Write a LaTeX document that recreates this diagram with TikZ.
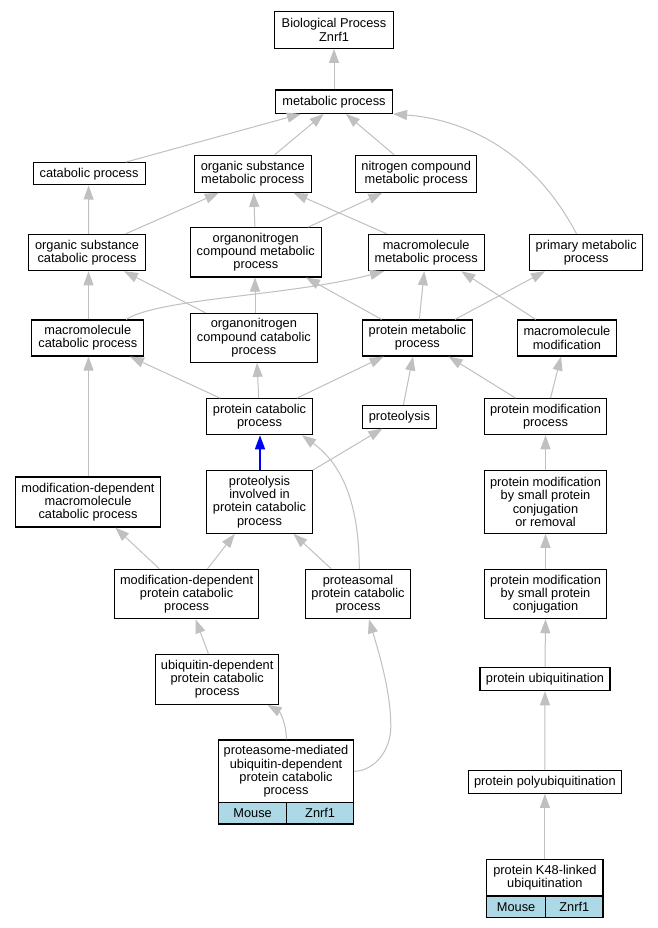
\documentclass[tikz,border=0pt]{standalone}
\usepackage{fontspec}
\setmainfont{Liberation Sans}
\usetikzlibrary{arrows.meta}
\definecolor{edgegray}{RGB}{192,192,192}
\definecolor{cellblue}{RGB}{173,216,230}
\begin{document}
\begin{tikzpicture}[x=1pt,y=-1pt,
  box/.style={draw,line width=1.1pt,inner sep=0pt,align=center,fill=white,
    font=\fontsize{12.8}{13.3}\selectfont},
  sz/.style 2 args={minimum width=#1pt,minimum height=#2pt},
  cell/.style={box,fill=cellblue},
  dep/.style={draw=edgegray,line width=1pt,-{Triangle[length=14pt,width=10pt]}},
  isa/.style={draw=blue,line width=1.5pt,-{Triangle[length=14pt,width=10pt]}}]
\fill[white] (0,0) rectangle (657,928);
\useasboundingbox (0,0) rectangle (657,928);

% nodes
\node[box,sz={118.7}{36.7}] (BP) at (334,30) {Biological Process\\Znrf1};
\node[box,sz={117}{23.3}] (met) at (334,101.7) {metabolic process};
\node[box,sz={112}{22.3}] (cat) at (89.1,173.8) {catabolic process};
\node[box,sz={116.6}{37}] (osm) at (252.8,173.8) {organic substance\\metabolic process};
\node[box,sz={121}{37}] (ncm) at (416.2,173.8) {nitrogen compound\\metabolic process};
\node[box,sz={116.2}{36.4}] (osc) at (87,252.5) {organic substance\\catabolic process};
\node[box,sz={130.8}{49.3}] (onm) at (255.8,252.3) {organonitrogen\\compound metabolic\\process};
\node[box,sz={116.2}{36.4}] (mmm) at (426.2,252.5) {macromolecule\\metabolic process};
\node[box,sz={113.2}{36.4}] (pmp) at (586.2,252.5) {primary metabolic\\process};
\node[box,sz={112}{36}] (mmc) at (87.8,338) {macromolecule\\catabolic process};
\node[box,sz={127}{49}] (onc) at (253.9,337.8) {organonitrogen\\compound catabolic\\process};
\node[box,sz={109.4}{36}] (pmet) at (417.4,338) {protein metabolic\\process};
\node[box,sz={99}{36}] (mmod) at (566.9,338) {macromolecule\\modification};
\node[box,sz={105.7}{36}] (pcat) at (259.5,416.7) {protein catabolic\\process};
\node[box,sz={73.3}{22.7}] (prot) at (399.4,416.7) {proteolysis};
\node[box,sz={122.4}{36}] (pmp2) at (545.5,416.7) {protein modification\\process};
\node[box,sz={144.3}{50}] (mdmc) at (88,502) {modification-dependent\\macromolecule\\catabolic process};
\node[box,sz={105.7}{62.6}] (pipc) at (259.5,502) {proteolysis\\involved in\\protein catabolic\\process};
\node[box,sz={122.4}{62.6}] (pmsr) at (545.5,502) {protein modification\\by small protein\\conjugation\\or removal};
\node[box,sz={144.2}{49.4}] (mdpc) at (186.6,594) {modification-dependent\\protein catabolic\\process};
\node[box,sz={105.7}{49.4}] (ppc) at (358,594) {proteasomal\\protein catabolic\\process};
\node[box,sz={122.4}{49.4}] (pmsc) at (545.5,594) {protein modification\\by small protein\\conjugation};
\node[box,sz={123.2}{50}] (udpc) at (217.2,679.3) {ubiquitin-dependent\\protein catabolic\\process};
\node[box,sz={130}{23}] (pubi) at (545,679.2) {protein ubiquitination};
\node[box,sz={135.1}{62.7}] (prmed) at (286,771.35) {proteasome-mediated\\ubiquitin-dependent\\protein catabolic\\process};
\node[cell,sz={68.4}{21.3}] (prmedA) at (252.6,813.35) {Mouse};
\node[cell,sz={66.7}{21.3}] (prmedB) at (320.15,813.35) {Znrf1};
\node[box,sz={153}{22.7}] (poly) at (544.9,782) {protein polyubiquitination};
\node[box,sz={116.2}{36.7}] (k48) at (544.9,877.65) {protein K48-linked\\ubiquitination};
\node[cell,sz={58.7}{21.3}] (k48A) at (516.15,906.65) {Mouse};
\node[cell,sz={57.5}{21.3}] (k48B) at (574.25,906.65) {Znrf1};

% edges
\draw[dep] (met.north) -- (BP.south);
\draw[dep] ([xshift=36.7pt]cat.north) -- ([xshift=-33pt]met.south);
\draw[dep] ([xshift=21.8pt]osm.north) -- ([xshift=-10.3pt]met.south);
\draw[dep] ([xshift=-22.1pt]ncm.north) -- ([xshift=11.9pt]met.south);
\draw[dep] ([xshift=-9.7pt]pmp.north) .. controls (535,155) and (470,120) .. (met.south east);
\draw[dep] ([xshift=1.5pt]osc.north) -- ([xshift=-0.5pt]cat.south);
\draw[dep] ([xshift=38.8pt]osc.north) -- ([xshift=-33.9pt]osm.south);
\draw[dep] ([xshift=-0.9pt]onm.north) -- ([xshift=0.9pt]osm.south);
\draw[dep] ([xshift=52.4pt]onm.north) -- ([xshift=-33.8pt]ncm.south);
\draw[dep] ([xshift=-39.6pt]mmm.north) -- ([xshift=40.7pt]osm.south);
\draw[dep] ([xshift=0.7pt]mmc.north) -- ([xshift=1.5pt]osc.south);
\draw[dep] ([xshift=38.2pt]mmc.north) .. controls (160,298) and (290,296) .. ([xshift=-42.2pt]mmm.south);
\draw[dep] ([xshift=-48.4pt]onc.north) -- ([xshift=37pt]osc.south);
\draw[dep] ([xshift=1.1pt]onc.north) -- ([xshift=-0.8pt]onm.south);
\draw[dep] ([xshift=-35.8pt]pmet.north) -- ([xshift=50.2pt]onm.south);
\draw[dep] ([xshift=1.9pt]pmet.north) -- ([xshift=-1.9pt]mmm.south);
\draw[dep] ([xshift=37.6pt]pmet.north) -- ([xshift=-41.2pt]pmp.south);
\draw[dep] ([xshift=-31.1pt]mmod.north) -- ([xshift=35pt]mmm.south);
\draw[dep] ([xshift=-39.4pt]pcat.north) -- ([xshift=42.2pt]mmc.south);
\draw[dep] ([xshift=-0.8pt]pcat.north) -- ([xshift=3.1pt]onc.south);
\draw[dep] ([xshift=37.4pt]pcat.north) -- ([xshift=-33.8pt]pmet.south);
\draw[dep] ([xshift=4pt]prot.north) -- ([xshift=-4.4pt]pmet.south);
\draw[dep] ([xshift=-29.8pt]pmp2.north) -- ([xshift=31.2pt]pmet.south);
\draw[dep] ([xshift=5pt]pmp2.north) -- ([xshift=-5.9pt]mmod.south);
\draw[dep] ([xshift=0.5pt]mdmc.north) -- ([xshift=0.7pt]mmc.south);
\draw[isa] ([xshift=0.5pt]pipc.north) -- ([xshift=0.5pt]pcat.south);
\draw[dep] (pipc.north east) -- ([xshift=-17pt]prot.south);
\draw[dep] ([xshift=1.3pt]ppc.north) .. controls (359,520) and (350,470) .. ([xshift=42.5pt]pcat.south);
\draw[dep] (pmsr.north) -- (pmp2.south);
\draw[dep] ([xshift=-27.3pt]mdpc.north) -- ([xshift=27.3pt]mdmc.south);
\draw[dep] ([xshift=20.9pt]mdpc.north) -- ([xshift=-24.7pt]pipc.south);
\draw[dep] ([xshift=-26.8pt]ppc.north) -- ([xshift=34pt]pipc.south);
\draw[dep] (pmsc.north) -- (pmsr.south);
\draw[dep] ([xshift=-8.8pt]udpc.north) -- ([xshift=8.9pt]mdpc.south);
\draw[dep] (pubi.north) -- (pmsc.south);
\draw[dep] ([xshift=0.4pt]prmed.north) .. controls (286.4,724) and (280,712) .. ([xshift=50.3pt]udpc.south);
\draw[dep] (prmed.east) .. controls (375,770.7) and (390.8,750) .. (390.8,726.7)
   .. controls (390.8,690) and (378,650) .. ([xshift=11pt]ppc.south);
\draw[dep] (poly.north) -- (pubi.south);
\draw[dep] (k48.north) -- (poly.south);
\end{tikzpicture}
\end{document}
